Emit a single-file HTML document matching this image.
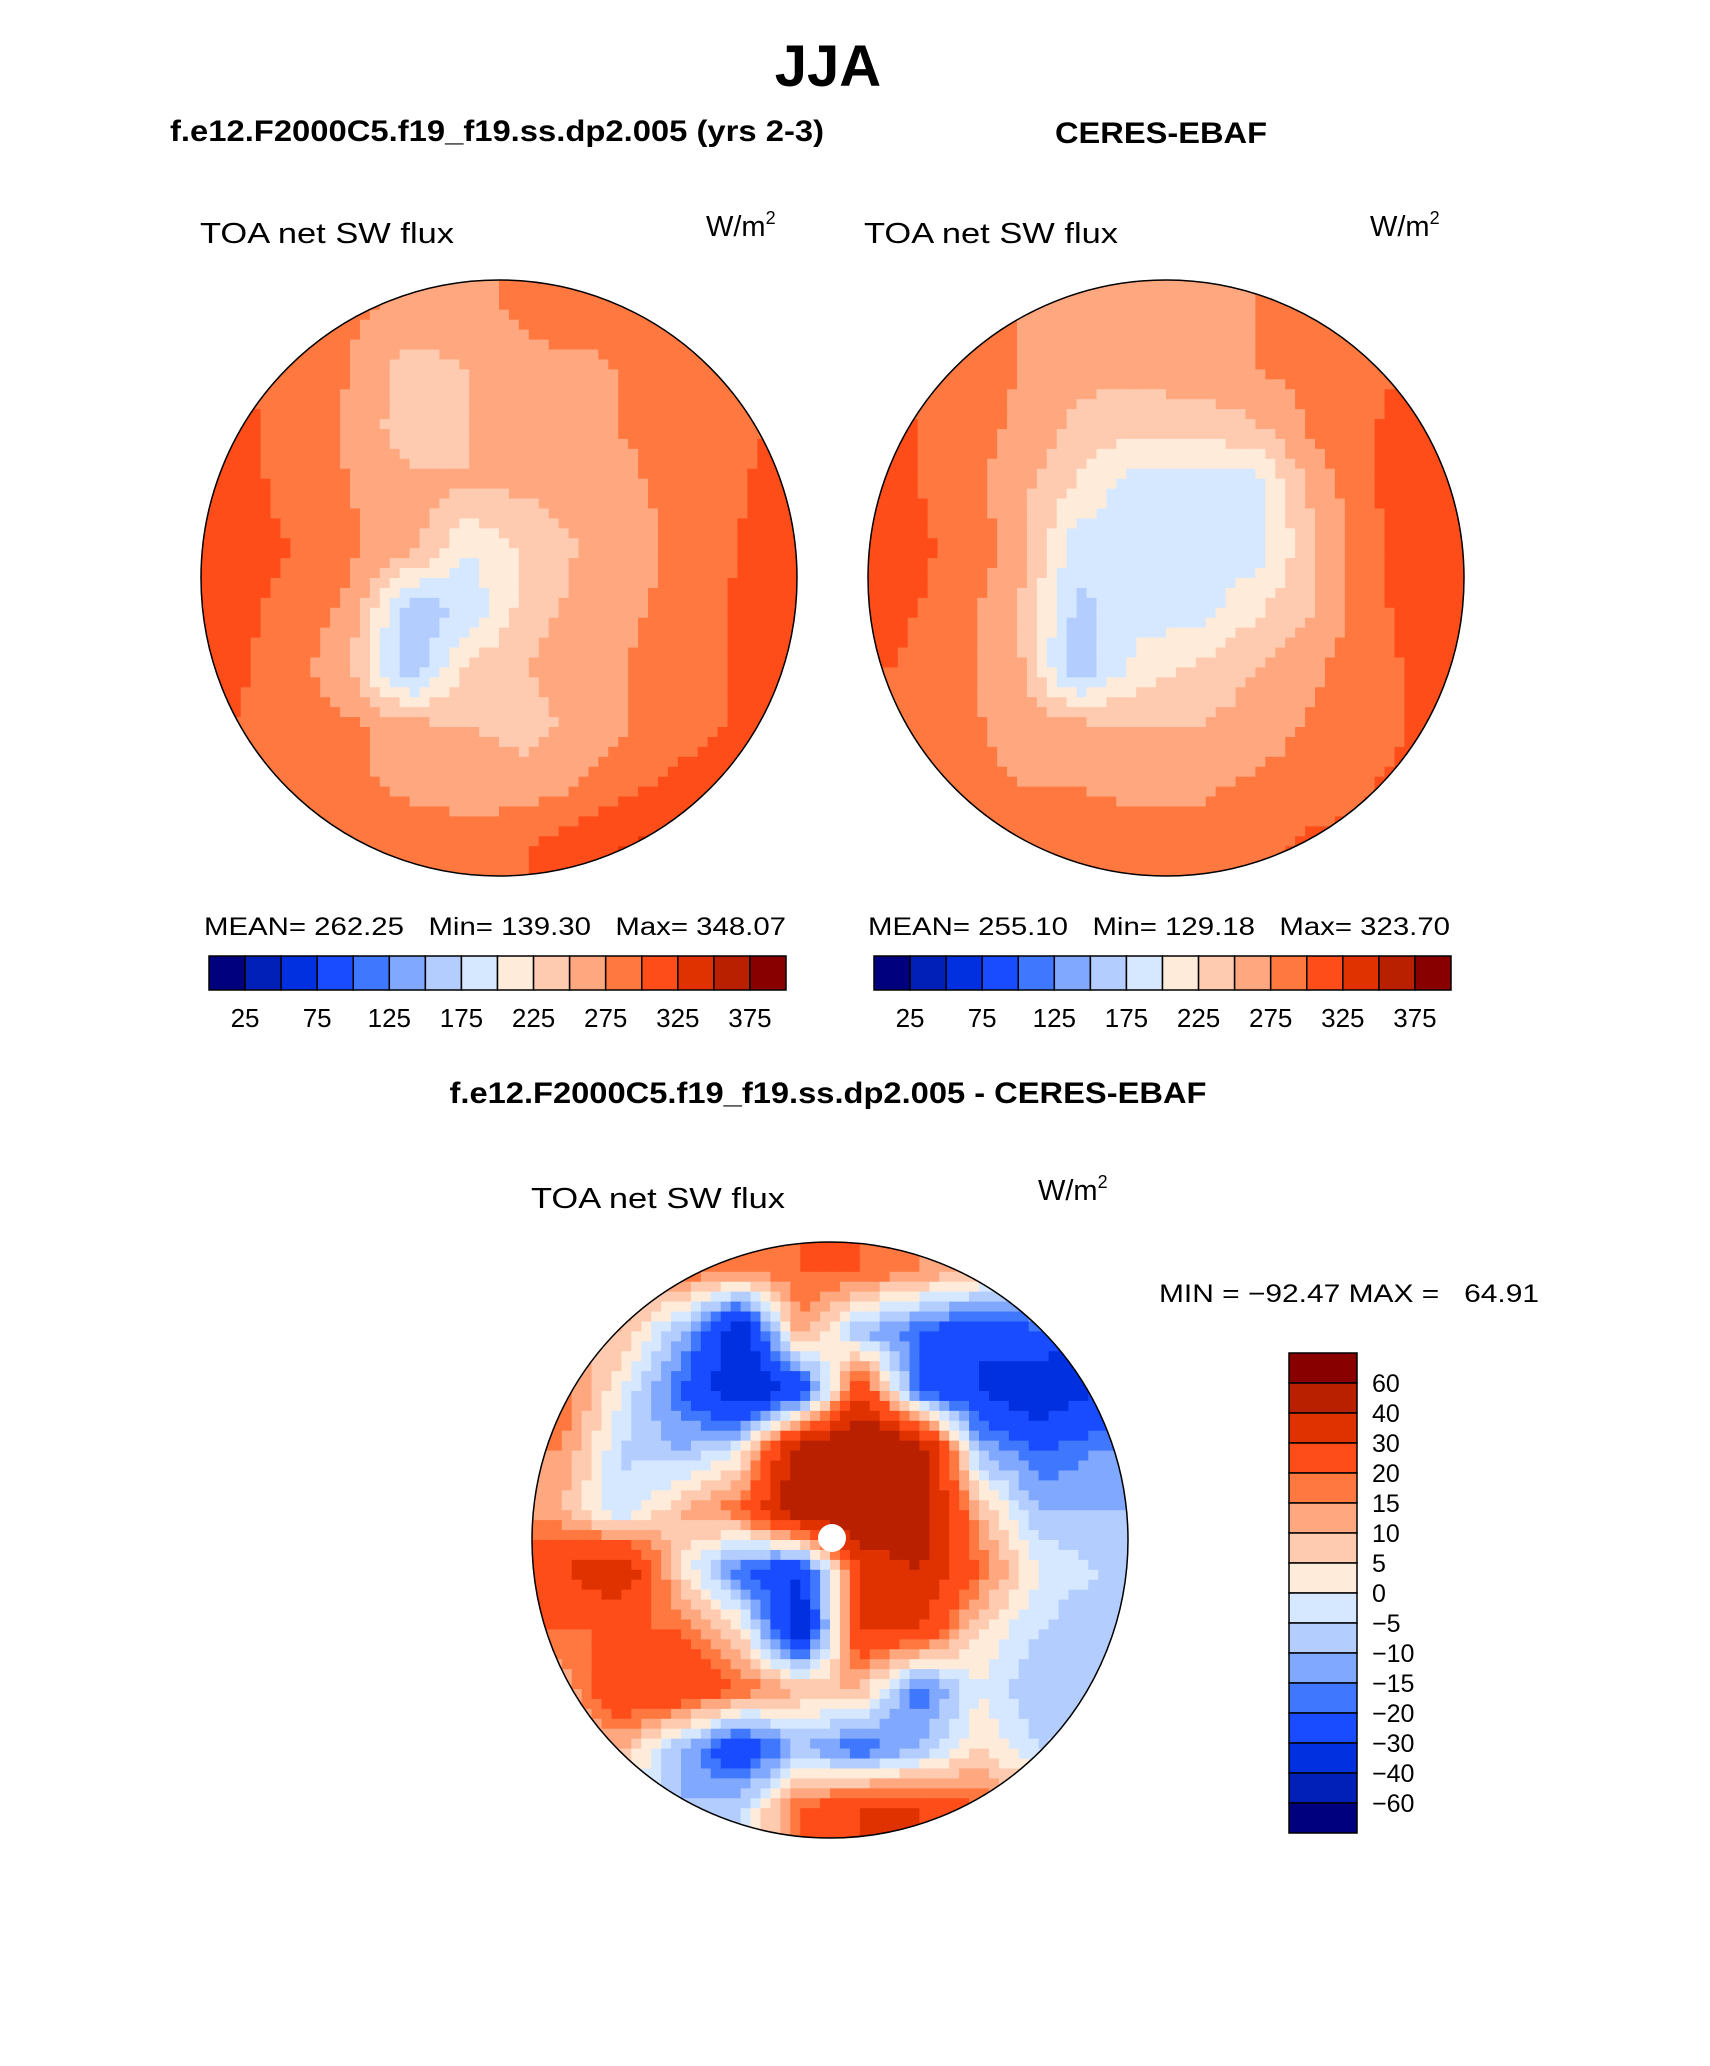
<!DOCTYPE html>
<html><head><meta charset="utf-8"><style>
html,body{margin:0;padding:0;background:#fff}
svg text{font-family:"Liberation Sans",sans-serif}
</style></head><body>
<svg id="fig" width="1710" height="2061" viewBox="0 0 1710 2061" xmlns="http://www.w3.org/2000/svg">
<text x="828" y="86" font-size="58" font-weight="bold" text-anchor="middle">JJA</text>
<text x="497" y="141" font-size="30" font-weight="bold" text-anchor="middle" textLength="654" lengthAdjust="spacingAndGlyphs">f.e12.F2000C5.f19_f19.ss.dp2.005 (yrs 2-3)</text>
<text x="1161" y="143" font-size="30" font-weight="bold" text-anchor="middle" textLength="212" lengthAdjust="spacingAndGlyphs">CERES-EBAF</text>
<text x="828" y="1103" font-size="30" font-weight="bold" text-anchor="middle" textLength="757" lengthAdjust="spacingAndGlyphs">f.e12.F2000C5.f19_f19.ss.dp2.005 - CERES-EBAF</text>

<text x="200" y="243" font-size="29" textLength="254" lengthAdjust="spacingAndGlyphs">TOA net SW flux</text>
<text x="706" y="236" font-size="29">W/m<tspan font-size="18" dy="-12">2</tspan></text>
<text x="864" y="243" font-size="29" textLength="254" lengthAdjust="spacingAndGlyphs">TOA net SW flux</text>
<text x="1370" y="236" font-size="29">W/m<tspan font-size="18" dy="-12">2</tspan></text>
<text x="531" y="1208" font-size="29" textLength="254" lengthAdjust="spacingAndGlyphs">TOA net SW flux</text>
<text x="1038" y="1200" font-size="29">W/m<tspan font-size="18" dy="-12">2</tspan></text>

<text x="204" y="935" font-size="25" xml:space="preserve" style="white-space:pre" textLength="582" lengthAdjust="spacingAndGlyphs">MEAN= 262.25   Min= 139.30   Max= 348.07</text>
<text x="868" y="935" font-size="25" xml:space="preserve" style="white-space:pre" textLength="582" lengthAdjust="spacingAndGlyphs">MEAN= 255.10   Min= 129.18   Max= 323.70</text>
<text x="1159" y="1302" font-size="25" xml:space="preserve" style="white-space:pre" textLength="380" lengthAdjust="spacingAndGlyphs">MIN = −92.47 MAX =   64.91</text>
<g id="maps"></g>
</svg>
<script>
const absColors=["#00007f","#0020b8","#0030e0","#1a4cff","#3f78ff","#80a8ff","#b3cdff","#d6e8ff","#ffebd9","#ffcbb0","#ffa880","#ff7840","#ff4d1a","#e03200","#b82000","#880000"];
const absLevels=[25,50,75,100,125,150,175,200,225,250,275,300,325,350,375];
const absTickLabels=["25","75","125","175","225","275","325","375"];
const diffLevels=[-60,-40,-30,-20,-15,-10,-5,0,5,10,15,20,30,40,60];
const diffTickLabels=["60","40","30","20","15","10","5","0","−5","−10","−15","−20","−30","−40","−60"];
const modelGrid=[
[285,285,280,270,270,280,285,290,290,290],
[300,290,275,235,250,270,270,280,290,295],
[310,290,270,235,250,260,270,280,290,300],
[315,290,275,260,250,255,260,275,290,305],
[320,300,280,260,200,230,255,270,290,310],
[310,290,270,160,180,240,260,275,295,310],
[305,290,250,150,230,250,265,280,295,310],
[300,290,280,260,250,240,260,280,295,310],
[300,290,280,270,265,260,280,300,315,315],
[300,300,290,290,285,300,320,330,330,320]];
const obsGrid=[
[285,285,275,265,255,265,275,285,295,295],
[295,290,275,255,260,270,275,285,295,305],
[305,290,270,245,230,230,245,280,300,315],
[305,290,260,220,185,185,185,260,300,315],
[315,290,270,185,185,185,185,250,295,315],
[305,290,250,170,185,185,220,250,295,315],
[300,280,260,150,210,230,250,270,295,305],
[295,280,270,260,250,250,260,280,295,305],
[295,280,275,275,270,270,280,290,300,305],
[295,295,285,285,285,285,295,305,305,305]];
const diffGrid=[
[10,15,20,15,20,20,15,10,5,-10],
[10,10,-10,-40,15,-10,-20,-30,-20,-40],
[20,0,-20,-40,-30,30,-20,-30,-40,-30],
[15,-5,-10,0,50,60,50,-10,-20,-15],
[10,-5,10,20,50,60,50,10,-10,-10],
[30,40,5,-20,-30,30,40,20,0,-5],
[20,20,20,5,-40,30,30,5,-5,-10],
[10,30,30,20,10,10,-20,0,-10,-10],
[5,10,-10,-30,-10,-20,-10,5,-5,0],
[0,0,-10,-5,20,30,30,20,10,5]];

const NS="http://www.w3.org/2000/svg";
const root=document.getElementById('maps');
function mk(t,a,p){const e=document.createElementNS(NS,t);for(const k in a)e.setAttribute(k,a[k]);(p||root).appendChild(e);return e;}
function bin(v,levels){let i=0;while(i<levels.length&&v>=levels[i])i++;return i;}
function sample(g,u,v){const n=g.length;const x=Math.min(Math.max(u*n-0.5,0),n-1),y=Math.min(Math.max(v*n-0.5,0),n-1);
 const x0=Math.floor(x),y0=Math.floor(y),x1=Math.min(x0+1,n-1),y1=Math.min(y0+1,n-1),fx=x-x0,fy=y-y0;
 return g[y0][x0]*(1-fx)*(1-fy)+g[y0][x1]*fx*(1-fy)+g[y1][x0]*(1-fx)*fy+g[y1][x1]*fx*fy;}
function drawMap(id,cx,cy,r,grid,levels,name){
 const cp=mk('clipPath',{id:'clip'+id});
 mk('circle',{cx:cx,cy:cy,r:r},cp);
 const g=mk('g',{'clip-path':'url(#clip'+id+')'});
 
 
 const N=60,s=2*r/N;
 for(let j=0;j<N;j++)for(let i=0;i<N;i++){
  const v=sample(grid,(i+0.5)/N,(j+0.5)/N);
  const c=mk('rect',{x:(cx-r+i*s).toFixed(2),y:(cy-r+j*s).toFixed(2),width:(s+0.6).toFixed(2),height:(s+0.6).toFixed(2),fill:absColors[bin(v,levels)]},g);
  
  
 }
 const o=mk('circle',{cx:cx,cy:cy,r:r,fill:'none',stroke:'#000','stroke-width':1.5});
 
 
}
drawMap('a',499,578,298,modelGrid,absLevels,'model-map');
drawMap('b',1166,578,298,obsGrid,absLevels,'obs-map');
drawMap('c',830,1540,298,diffGrid,diffLevels,'difference-map');
const pole=mk('circle',{cx:832,cy:1538,r:14,fill:'#fff'});



function hbar(x0,y0,w,h,name){
 const g=mk('g',{});
 
 
 const bw=w/absColors.length;
 absColors.forEach((c,i)=>{const r=mk('rect',{x:x0+i*bw,y:y0,width:bw,height:h,fill:c,stroke:'#000','stroke-width':1.5},g);
  
  });
 absTickLabels.forEach((t,k)=>{const b=1+2*k;const tx=mk('text',{x:x0+b*bw,y:y0+h+37,'font-size':26,'text-anchor':'middle'},g);tx.textContent=t;
  
  });
}
hbar(209,956,577,34,'left-colorbar');
hbar(874,956,577,34,'right-colorbar');
(function(){
 const g=mk('g',{});
 
 
 const x0=1289,y0=1353,w=68,bh=30;
 const cols=absColors.slice().reverse();
 cols.forEach((c,i)=>{const r=mk('rect',{x:x0,y:y0+i*bh,width:w,height:bh,fill:c,stroke:'#000','stroke-width':1.5},g);
  
  });
 diffTickLabels.forEach((t,k)=>{const tx=mk('text',{x:1372,y:y0+(k+1)*bh+9,'font-size':25},g);tx.textContent=t;
  
  });
})();
</script>
</body></html>
